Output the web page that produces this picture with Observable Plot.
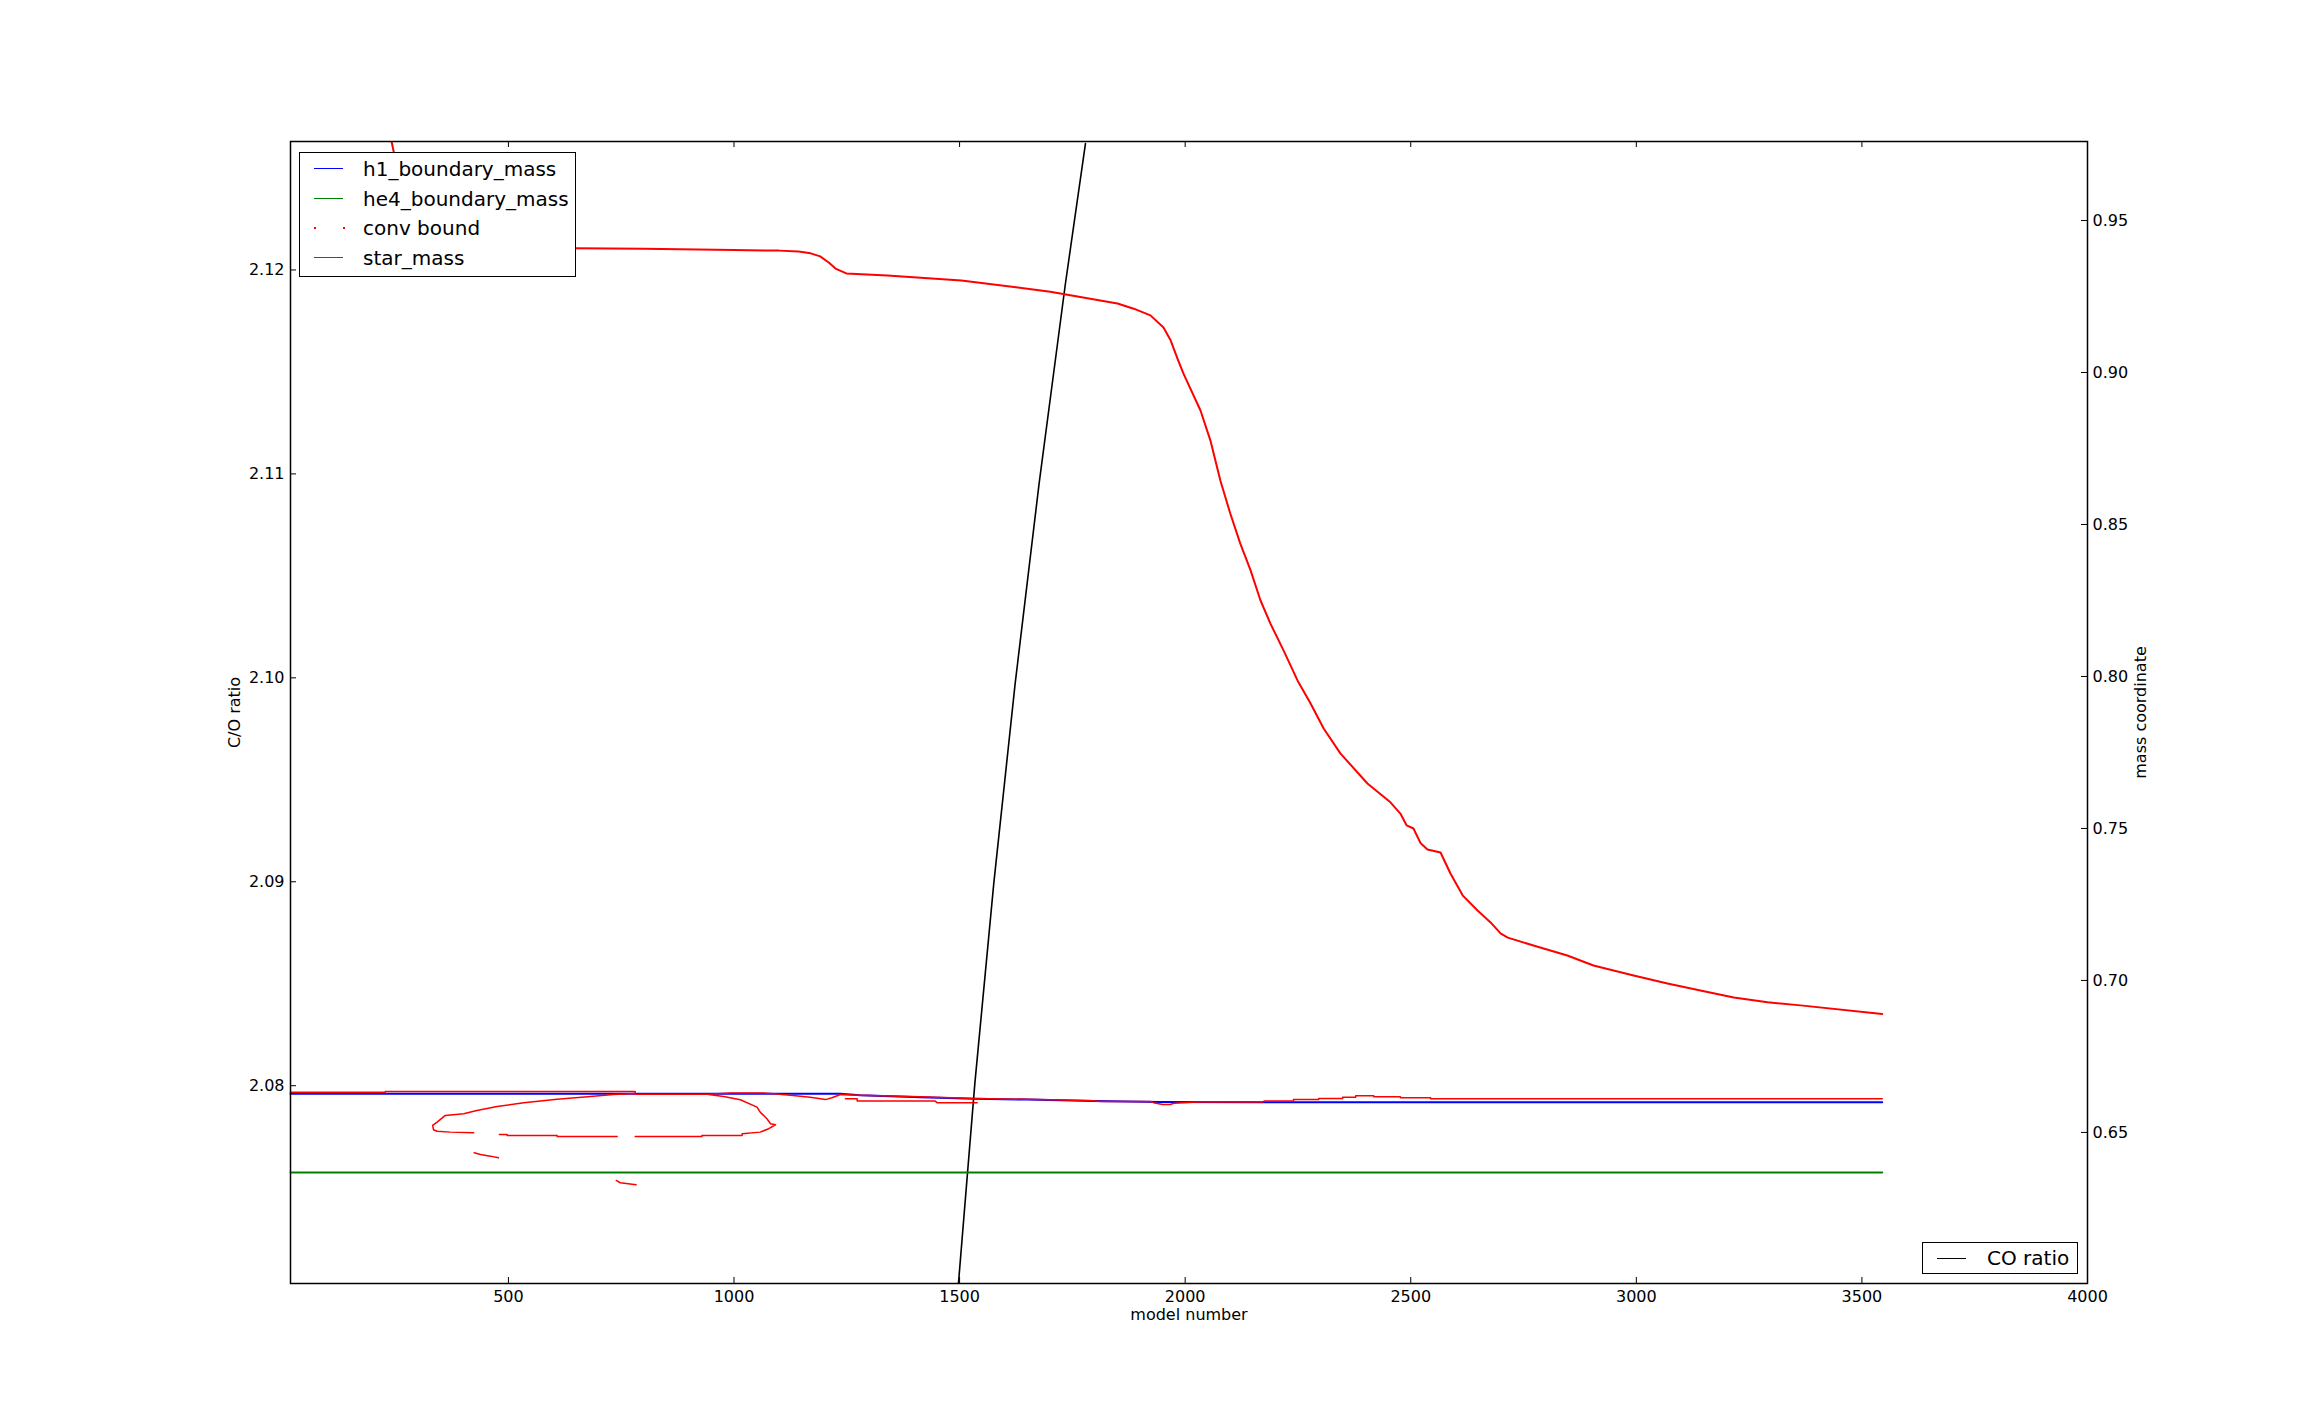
<!DOCTYPE html>
<html><head><meta charset="utf-8">
<script src="https://cdn.jsdelivr.net/npm/d3@7"></script>
<script src="https://cdn.jsdelivr.net/npm/@observablehq/plot@0.6"></script>
<style>
body{margin:0;background:#fff;}
#wrap{position:relative;width:2318px;height:1427px;font-family:"DejaVu Sans",sans-serif;color:#000;}
.legend{position:absolute;background:#fff;border:1.5px solid #000;box-sizing:border-box;}
.row{position:absolute;height:24px;line-height:24px;font-size:20px;white-space:nowrap;}
.sample{position:absolute;width:29px;height:0;}
.dot{position:absolute;width:2px;height:2px;background:#ff0000;}
</style></head><body><div id="wrap"></div><script>
// ---- data ----
const xTicks = [500, 1000, 1500, 2000, 2500, 3000, 3500, 4000];
const massTicks = [0.65, 0.70, 0.75, 0.80, 0.85, 0.90, 0.95];
const coTicks = [2.08, 2.09, 2.10, 2.11, 2.12];
const xDomain = [17, 4000];
const massDomain = [0.6003, 0.9760];
const coDomain = [2.0703, 2.1263];

const coModels = [1497.5, 1533.8, 1575.7, 1623.1, 1676.1, 1734.4, 1779.0];
const coRatio  = [2.0703, 2.0801, 2.0899, 2.0997, 2.1095, 2.1193, 2.1262];

const h1Models = [17, 1236, 1280, 1413, 1531, 1650, 1797, 1945, 2167, 3545];
const h1Mass   = [0.6627, 0.6627, 0.6622, 0.6616, 0.6611, 0.6608, 0.6603, 0.6600, 0.6599, 0.6599];

const he4Models = [17, 3545];
const he4Mass   = [0.6368, 0.6368];

const starModels = [215, 241, 255, 275, 300, 340, 400, 500, 650, 800, 1000, 1100, 1143, 1170, 1191, 1210, 1225, 1249, 1340, 1504, 1701, 1850, 1886, 1923, 1952, 1968, 1983, 1996, 2034, 2056, 2078, 2100, 2122, 2145, 2167, 2189, 2218, 2249, 2278, 2307, 2344, 2404, 2455, 2477, 2491, 2506, 2522, 2537, 2566, 2588, 2615, 2648, 2677, 2699, 2715, 2772, 2847, 2905, 2994, 3069, 3142, 3216, 3291, 3364, 3545];
const starMass   = [0.990, 0.976, 0.966, 0.954, 0.9465, 0.9425, 0.9412, 0.9410, 0.9409, 0.9407, 0.9403, 0.9401, 0.9398, 0.9392, 0.9382, 0.9362, 0.9342, 0.9326, 0.9319, 0.9303, 0.9266, 0.9227, 0.9210, 0.9188, 0.9148, 0.9105, 0.9046, 0.8997, 0.8875, 0.8776, 0.8645, 0.8536, 0.8438, 0.8349, 0.8250, 0.8174, 0.8086, 0.7987, 0.7911, 0.7829, 0.7747, 0.7648, 0.7586, 0.7549, 0.7510, 0.7500, 0.7451, 0.7431, 0.7421, 0.7352, 0.7280, 0.7230, 0.7191, 0.7155, 0.7141, 0.7115, 0.7082, 0.7049, 0.7016, 0.6990, 0.6967, 0.6944, 0.6928, 0.6918, 0.6890];

// convective boundary traces (model, mass), each a separate run of points
const convUpper = [[17,0.6632],[227,0.6632],[227,0.6635],[781,0.6635],[781,0.6626],[943,0.6626],[992,0.6630],[1065,0.6630],[1088,0.6627],[1125,0.6622],[1169,0.6616],[1203,0.6608],[1217,0.6614],[1236,0.6625],[1280,0.6622],[1413,0.6617],[1531,0.6612],[1650,0.6609],[1797,0.6604],[1812,0.6602],[1923,0.6602],[1930,0.6598],[1950,0.6592],[1967,0.6592],[1975,0.6596],[2027,0.6600],[2171,0.6600],[2175,0.6603],[2240,0.6603],[2240,0.6608],[2296,0.6608],[2296,0.6612],[2349,0.6612],[2349,0.6616],[2378,0.6616],[2378,0.6621],[2418,0.6621],[2418,0.6617],[2477,0.6617],[2477,0.6614],[2544,0.6614],[2544,0.6611],[3545,0.6611]];
const convLower = [[1247,0.6611],[1273,0.6611],[1273,0.6603],[1446,0.6603],[1450,0.6598],[1539,0.6598]];
const convLoopLeft = [[423,0.6499],[371,0.6501],[342,0.6504],[334,0.6509],[332,0.6523],[342,0.6534],[360,0.6556],[401,0.65615],[430,0.6572],[475,0.65855],[534,0.65977],[608,0.66095],[682,0.66184],[733,0.6625],[781,0.66283]];
const convLoopBottom = [[480,0.64934],[497,0.64934],[497,0.64901],[608,0.64901],[608,0.64868],[741,0.64868]];
const convLoopRight = [[781,0.64868],[929,0.64868],[929,0.64901],[1018,0.64901],[1018,0.64957],[1058,0.6501],[1077,0.65122],[1092,0.65253],[1081,0.65286],[1073,0.65451],[1058,0.65668],[1051,0.65832],[1014,0.66076],[977,0.66184],[944,0.6625]];
const convBitA = [[424,0.64332],[438,0.64276],[460,0.6422],[478,0.64167]];
const convBitB = [[739,0.63421],[748,0.63345],[783,0.6328]];
const convRuns = [convUpper, convLower, convLoopLeft, convLoopBottom, convLoopRight, convBitA, convBitB];

const legendNames = ["h1_boundary_mass", "he4_boundary_mass", "conv bound", "star_mass"];
const legendColors = ["#0000ff", "#008000", "#ff0000", "#ff0000"];

// ---- build ----
const coToMass = d3.scaleLinear().domain(coDomain).range(massDomain);
const co = coModels.map((m, i) => ({x: m, y: coToMass(coRatio[i])}));
const h1 = h1Models.map((m, i) => ({x: m, y: h1Mass[i]}));
const he4 = he4Models.map((m, i) => ({x: m, y: he4Mass[i]}));
const star = starModels.map((m, i) => ({x: m, y: starMass[i]}));
const conv = convRuns.flatMap((run, k) => run.map(([m, v]) => ({x: m, y: v, z: k})));

const W = 2318, H = 1427, ML = 290, MR = 231, MT = 141, MB = 144;
const FW = W - ML - MR, FH = H - MT - MB;

const chart = Plot.plot({
  width: W, height: H,
  marginLeft: ML, marginRight: MR, marginTop: MT, marginBottom: MB,
  style: {fontFamily: "DejaVu Sans", fontSize: "16px", background: "white", color: "black"},
  x: {domain: xDomain, nice: false, label: null},
  y: {domain: massDomain, nice: false, label: null},
  marks: [
    Plot.line(co, {x: "x", y: "y", stroke: "#000000", strokeWidth: 1.6, clip: true}),
    Plot.line(h1, {x: "x", y: "y", stroke: "#0000ff", strokeWidth: 2}),
    Plot.line(he4, {x: "x", y: "y", stroke: "#008000", strokeWidth: 2}),
    Plot.line(conv, {x: "x", y: "y", z: "z", stroke: "#ff0000", strokeWidth: 1.5}),
    Plot.line(star, {x: "x", y: "y", stroke: "#ff0000", strokeWidth: 2, clip: true}),
    Plot.tickX(xTicks, {x: d => d, insetTop: FH - 6, stroke: "black"}),
    Plot.tickX(xTicks, {x: d => d, insetBottom: FH - 6, stroke: "black"}),
    Plot.tickY(massTicks, {y: d => d, insetLeft: FW - 6, stroke: "black"}),
    Plot.tickY(coTicks, {y: d => coToMass(d), insetRight: FW - 6, stroke: "black"}),
    Plot.axisX({anchor: "bottom", ticks: xTicks, tickSize: 0, tickPadding: 7, tickFormat: d => String(d), label: null}),
    Plot.axisY({anchor: "right", ticks: massTicks, tickSize: 0, tickPadding: 5, tickFormat: d3.format(".2f"), label: null}),
    Plot.axisY({anchor: "left", ticks: coTicks.map(d => coToMass(d)), tickSize: 0, tickPadding: 6, tickFormat: d => d3.format(".2f")(coToMass.invert(d)), label: null}),
    Plot.text(["model number"], {frameAnchor: "bottom", dy: 31, text: d => d, fontSize: 16, textAnchor: "middle", lineAnchor: "middle"}),
    Plot.text(["C/O ratio"], {frameAnchor: "left", dx: -56, rotate: -90, text: d => d, fontSize: 16, textAnchor: "middle", lineAnchor: "middle"}),
    Plot.text(["mass coordinate"], {frameAnchor: "right", dx: 53, rotate: -90, text: d => d, fontSize: 16, textAnchor: "middle", lineAnchor: "middle"}),
    Plot.frame({stroke: "black", strokeWidth: 1.5})
  ]
});

const wrap = document.getElementById("wrap");
chart.style.position = "absolute";
chart.style.left = "0px";
chart.style.top = "0px";
wrap.appendChild(chart);

// upper-left legend
const lg = document.createElement("div");
lg.className = "legend";
Object.assign(lg.style, {left: "299px", top: "152px", width: "277px", height: "125px"});
legendNames.forEach((name, i) => {
  const cy = 16 + i * 29.7;
  if (name === "conv bound") {
    [14, 43].forEach(px => {
      const d = document.createElement("div");
      d.className = "dot";
      Object.assign(d.style, {left: px + "px", top: (cy - 1) + "px"});
      lg.appendChild(d);
    });
  } else {
    const s = document.createElement("div");
    s.className = "sample";
    Object.assign(s.style, {left: "14px", top: (cy - 1) + "px", borderTop: "1.5px solid " + legendColors[i]});
    lg.appendChild(s);
  }
  const t = document.createElement("div");
  t.className = "row";
  t.textContent = name;
  Object.assign(t.style, {left: "63px", top: (cy - 12) + "px"});
  lg.appendChild(t);
});
wrap.appendChild(lg);

// lower-right legend
const lg2 = document.createElement("div");
lg2.className = "legend";
Object.assign(lg2.style, {left: "1922px", top: "1242px", width: "156px", height: "32px"});
const s2 = document.createElement("div");
s2.className = "sample";
Object.assign(s2.style, {left: "14px", top: "15px", borderTop: "1.5px solid #000"});
lg2.appendChild(s2);
const t2 = document.createElement("div");
t2.className = "row";
t2.textContent = "CO ratio";
Object.assign(t2.style, {left: "64px", top: "3px"});
lg2.appendChild(t2);
wrap.appendChild(lg2);
</script></body></html>
